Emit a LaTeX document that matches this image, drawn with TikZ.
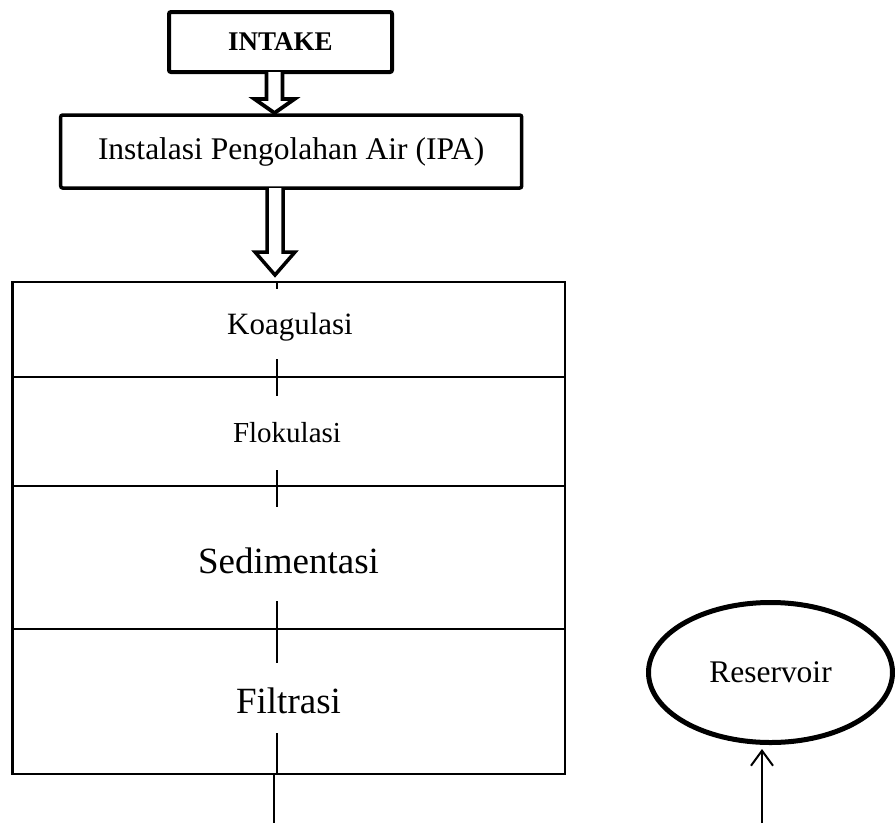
\documentclass[tikz,border=0pt]{standalone}
\usepackage{fontspec}
\setmainfont{Liberation Serif}
\usetikzlibrary{shapes.geometric,arrows.meta,calc}
\tikzset{
  thickbox/.style={draw, line width=4pt, rounded corners=2pt, inner sep=0pt},
  hollowarrow/.style={draw, line width=3.8pt, fill=white, line join=miter},
  stagebox/.style={draw, line width=2.5pt},
  divider/.style={line width=2.2pt},
  flowline/.style={line width=2pt},
  cover/.style={fill=white, inner sep=0pt, inner xsep=12pt, anchor=base},
  tank/.style={ellipse, draw, line width=5pt, inner sep=0pt},
  openarrow/.style={line width=2pt, -{Straight Barb[length=15pt, width=22pt, line width=2pt]}}
}
\begin{document}
\begin{tikzpicture}[x=1pt, y=-1pt]
\useasboundingbox (0,0) rectangle (895,823);

% top boxes
\node[thickbox, minimum width=223, minimum height=60, font=\fontsize{27}{27}\selectfont\bfseries]
  (intake) at (280.5,42) {INTAKE};
\node[thickbox, line width=3.5pt, minimum width=461, minimum height=73, font=\fontsize{31.5}{31.5}\selectfont]
  (ipa) at (291.2,151.5) {Instalasi Pengolahan Air (IPA)};

% hollow double arrows
\coordinate (a1) at (274.5,72);
\path[hollowarrow] ($(a1)+(-8,0)$) -- ($(a1)+(-8,27)$) -- ($(a1)+(-20,27)$) -- ($(a1)+(0,41)$)
  -- ($(a1)+(20,27)$) -- ($(a1)+(8,27)$) -- ($(a1)+(8,0)$);
\coordinate (a2) at (275,188);
\path[hollowarrow, line width=3.5pt] ($(a2)+(-8,0)$) -- ($(a2)+(-8,64)$) -- ($(a2)+(-20,64)$) -- ($(a2)+(0,87)$)
  -- ($(a2)+(20,64)$) -- ($(a2)+(8,64)$) -- ($(a2)+(8,0)$);

% stage box
\coordinate (bxtl) at (12.7,282);
\coordinate (bxbr) at (565,774);
\draw[stagebox] (bxtl) rectangle (bxbr);
\draw[divider] (12.7,377) -- (565,377);
\draw[divider] (12.7,486) -- (565,486);
\draw[divider] (12.7,629) -- (565,629);

% central flow line
\coordinate (ftop) at (276.7,282);
\coordinate (fbot) at (276.7,774);
\coordinate (otop) at (274,774);
\coordinate (obot) at (274,823);
\draw[flowline] (ftop) -- (fbot);
\draw[flowline] (otop) -- (obot);

% stage labels (white covers over flow line)
\node[cover, text height=45pt, text depth=25pt, font=\fontsize{31}{31}\selectfont] (koag) at (290,334) {Koagulasi};
\node[cover, text height=46pt, text depth=28pt, font=\fontsize{29}{29}\selectfont] (flok) at (287,442) {Flokulasi};
\node[cover, text height=66pt, text depth=28pt, font=\fontsize{37}{37}\selectfont] (sedi) at (288.5,573) {Sedimentasi};
\node[cover, text height=50pt, text depth=20pt, font=\fontsize{37}{37}\selectfont] (filt) at (288.5,713) {Filtrasi};

% reservoir
\node[tank, minimum width=244, minimum height=140, font=\fontsize{31.5}{31.5}\selectfont]
  (res) at (770.5,672.5) {Reservoir};
\coordinate (rin) at (762,823);
\draw[openarrow] (rin) -- ($(rin |- res.south)+(0,4)$);
\end{tikzpicture}
\end{document}
